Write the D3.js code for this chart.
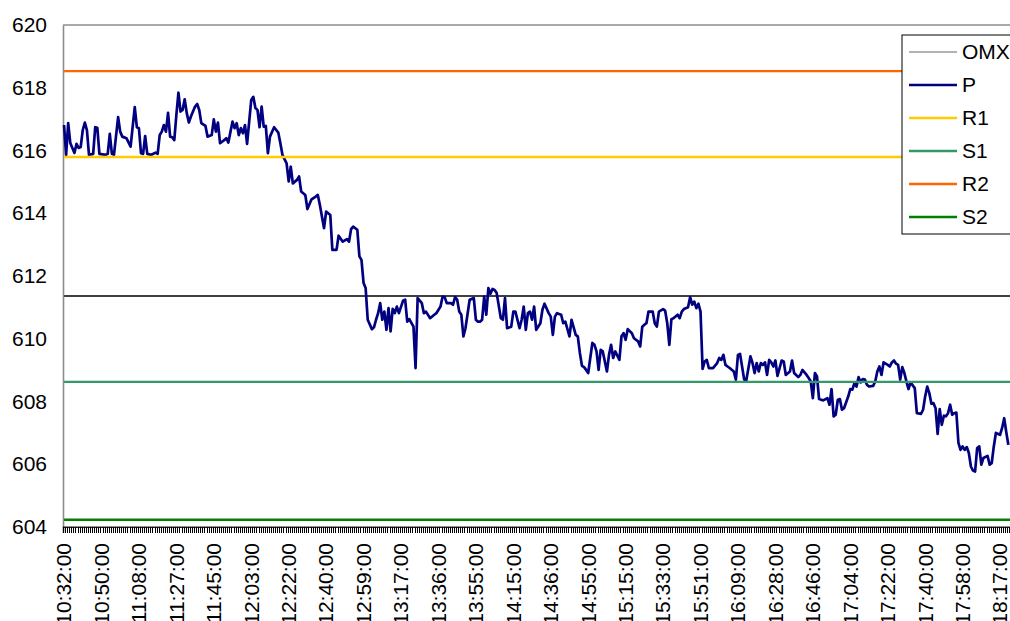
<!DOCTYPE html>
<html>
<head>
<meta charset="utf-8">
<script src="https://cdn.jsdelivr.net/npm/d3@7"></script>
<style>
body { margin: 0; background: #fff; }
text { font-family: "Liberation Sans", Arial, sans-serif; }
</style>
</head>
<body>
<svg id="chart"></svg>
<script>
// Width and height of svg
var width = 1010;
var height = 621;

// x axis: one category per quote, a label every 18th
var timeLabels = ["10:32:00", "10:50:00", "11:08:00", "11:27:00", "11:45:00", "12:03:00", "12:22:00",
  "12:40:00", "12:59:00", "13:17:00", "13:36:00", "13:55:00", "14:15:00", "14:36:00", "14:55:00",
  "15:15:00", "15:33:00", "15:51:00", "16:09:00", "16:28:00", "16:46:00", "17:04:00", "17:22:00",
  "17:40:00", "17:58:00", "18:17:00"];
var labelEvery = 18;
var categoryCount = 460;

var yTicks = [604, 606, 608, 610, 612, 614, 616, 618, 620];

// legend order and colours
var seriesNames = ["OMX", "P", "R1", "S1", "R2", "S2"];
var seriesColors = ["#404040", "#000080", "#ffcc00", "#339966", "#ff6600", "#008000"];

// pivot levels (flat series)
var levelNames = ["OMX", "R1", "S1", "R2", "S2"];
var levelValues = [611.36, 615.79, 608.62, 618.53, 604.22];

// price P: [category index, value]
var priceData = [
  [0,616.81],[1,615.86],[2,616.87],[3,616.24],[5,615.92],[6,616.21],[7,616.08],[8,616.11],[9,616.65],
  [10,616.89],[11,616.65],[12,615.86],[14,615.89],[15,616.74],[16,616.72],[17,615.89],[20,615.86],
  [21,615.89],[22,616.53],[23,615.89],[24,615.86],[26,617.06],[27,616.60],[28,616.44],[30,616.39],
  [32,616.12],[33,616.76],[34,617.38],[35,616.74],[36,616.71],[37,615.91],[38,615.89],[39,616.46],
  [40,615.89],[42,615.86],[44,615.93],[45,615.89],[46,616.49],[47,616.60],[48,616.81],[49,616.60],
  [50,617.20],[51,616.44],[52,616.42],[53,616.33],[54,617.13],[55,617.84],[56,617.24],[57,617.29],
  [58,617.63],[59,617.19],[60,616.89],[61,617.08],[63,617.40],[64,617.48],[65,617.29],[66,616.87],
  [68,616.78],[69,616.44],[71,616.49],[72,616.99],[73,616.60],[74,616.89],[75,616.23],[77,616.33],
  [78,616.39],[79,616.25],[81,616.92],[82,616.71],[83,616.87],[84,616.49],[85,616.71],[86,616.55],
  [87,616.81],[88,616.21],[90,617.61],[91,617.71],[92,617.35],[93,617.29],[94,616.74],[95,617.40],
  [96,616.76],[97,616.78],[98,615.91],[99,616.44],[101,616.74],[103,616.57],[104,616.23],[105,615.86],
  [107,615.59],[108,615.01],[109,615.48],[110,614.95],[112,615.06],[113,615.17],[114,614.69],[116,614.58],
  [117,614.13],[119,614.44],[121,614.53],[122,614.58],[123,614.26],[125,613.52],[126,614.05],[128,613.94],
  [129,612.83],[131,612.83],[132,613.28],[134,613.09],[136,613.17],[137,613.09],[138,613.49],[139,613.57],
  [141,613.47],[142,612.62],[143,612.51],[144,611.77],[145,611.61],[146,610.60],[148,610.30],[149,610.36],
  [150,610.60],[151,610.81],[152,611.13],[153,610.60],[154,610.86],[155,610.28],[156,610.97],[157,610.23],
  [158,610.95],[159,610.81],[160,611.02],[161,610.81],[163,611.21],[164,611.24],[165,610.54],[166,610.62],
  [168,610.38],[169,609.06],[170,611.29],[172,611.13],[173,610.81],[174,610.86],[176,610.65],[178,610.76],
  [179,610.81],[181,611.02],[182,611.34],[183,611.32],[184,611.13],[186,611.13],[187,611.08],[188,611.32],
  [189,611.24],[190,610.86],[191,610.76],[192,610.07],[193,610.33],[195,611.24],[197,611.29],[198,610.60],
  [199,610.54],[200,610.54],[201,610.60],[202,611.34],[203,610.76],[204,611.61],[205,611.43],[206,611.58],
  [207,611.55],[208,611.45],[210,610.65],[211,610.60],[212,611.29],[213,610.33],[215,610.38],[216,610.86],
  [217,610.86],[219,610.33],[220,610.60],[221,611.02],[222,610.28],[223,610.81],[224,610.86],[225,610.60],
  [226,611.02],[227,610.28],[229,610.49],[230,610.92],[231,611.11],[233,610.81],[234,610.70],[235,610.12],
  [236,610.70],[237,610.81],[239,610.76],[240,610.49],[241,610.54],[243,610.07],[244,610.60],[246,610.12],
  [247,610.07],[248,609.54],[249,609.13],[250,609.09],[251,609.00],[252,608.90],[254,609.86],[255,609.80],
  [256,609.59],[257,609.00],[258,609.64],[259,609.59],[261,608.95],[262,609.48],[263,609.80],[264,609.38],
  [265,609.59],[267,609.32],[268,610.07],[269,610.17],[270,609.96],[271,610.30],[273,610.17],[274,610.01],
  [276,609.91],[277,609.75],[278,610.38],[279,610.44],[280,610.49],[281,610.86],[282,610.86],[283,610.86],
  [284,610.49],[285,610.38],[286,610.86],[288,610.94],[289,610.89],[290,610.49],[291,609.80],[292,610.62],
  [293,610.65],[295,610.76],[296,610.65],[297,610.86],[298,610.94],[300,611.00],[301,611.32],[302,611.08],
  [303,611.18],[304,610.97],[305,611.11],[306,610.86],[307,609.03],[308,609.27],[309,609.32],[310,609.06],
  [312,609.06],[314,609.22],[315,609.38],[316,609.32],[317,609.48],[318,609.16],[319,609.11],[320,609.06],
  [322,608.95],[323,608.69],[324,609.48],[325,609.51],[327,608.69],[328,608.66],[330,609.43],[331,609.22],
  [332,608.90],[333,609.22],[334,608.95],[335,609.22],[336,609.16],[337,609.24],[338,608.84],[339,609.32],
  [340,609.24],[341,609.11],[342,609.30],[343,608.81],[345,609.30],[346,609.27],[347,608.84],[349,608.95],
  [350,609.30],[351,608.90],[353,608.77],[354,608.84],[355,609.00],[357,608.84],[358,608.74],[359,608.63],
  [360,608.10],[361,608.90],[362,608.79],[363,608.07],[364,608.05],[365,608.03],[367,608.10],[368,607.89],
  [369,608.39],[370,607.52],[371,607.57],[372,608.05],[373,608.07],[374,607.73],[375,607.78],[377,608.15],
  [378,608.39],[379,608.37],[380,608.58],[381,608.47],[382,608.77],[383,608.60],[384,608.71],[385,608.69],
  [386,608.53],[387,608.47],[389,608.49],[390,608.63],[391,608.95],[392,609.11],[393,608.84],[394,609.24],
  [396,609.16],[397,609.11],[398,609.24],[399,609.30],[400,609.20],[401,609.16],[402,608.69],[403,609.09],
  [404,608.90],[405,608.63],[406,608.39],[407,608.60],[409,608.42],[410,607.62],[412,607.60],[413,607.73],
  [414,608.15],[415,608.47],[416,608.26],[417,607.92],[418,607.94],[419,607.78],[420,606.96],[421,607.75],
  [422,607.25],[423,607.54],[424,607.52],[425,607.62],[426,607.89],[427,607.57],[428,607.62],[429,607.64],
  [430,606.67],[431,606.45],[432,606.56],[433,606.45],[434,606.54],[435,606.35],[436,605.92],[437,605.79],
  [438,605.76],[439,606.51],[440,606.56],[441,605.98],[442,606.19],[444,606.26],[445,605.98],[446,606.03],
  [447,606.56],[448,606.99],[450,606.93],[451,607.15],[452,607.46],[453,607.01],[454,606.61]
];

var plotLeft = 63, plotTop = 25, plotBottom = 526.7;
var step = 2.08;
var plotRight = plotLeft + categoryCount * step;

var svg = d3.select("#chart")
            .attr("width", width)
            .attr("height", height);

var x = d3.scaleLinear()
          .domain([0, categoryCount])
          .range([plotLeft, plotRight]);

var y = d3.scaleLinear()
          .domain([604, 620])
          .range([plotBottom, plotTop]);

function colorOf(name) {
  return seriesColors[seriesNames.indexOf(name)];
}

// plot frame: top border
svg.append("line")
  .attr("x1", plotLeft).attr("x2", plotRight)
  .attr("y1", plotTop).attr("y2", plotTop)
  .style("stroke", "#8c8c8c").style("stroke-width", 1.6);

// y axis
var yAxis = svg.append("g")
  .attr("transform", "translate(" + plotLeft + ",0)")
  .call(d3.axisLeft(y).tickValues(yTicks).tickSize(0).tickPadding(16));
yAxis.select(".domain").style("stroke", "#8c8c8c").style("stroke-width", 1.6);
yAxis.selectAll("text")
  .style("font-size", "21px").style("fill", "#000");

// x axis: a tick between every category
var xAxis = svg.append("g")
  .attr("transform", "translate(0," + plotBottom + ")")
  .call(d3.axisBottom(x).tickValues(d3.range(0, categoryCount + 1)).tickSize(6).tickFormat(""));
xAxis.select(".domain").style("stroke", "#222").style("stroke-width", 1.5);
xAxis.selectAll(".tick line")
  .style("stroke", "#000").style("stroke-width", 1)
  .style("shape-rendering", "crispEdges");

// time labels, rotated
svg.append("g").selectAll("text")
  .data(timeLabels)
  .enter()
  .append("text")
  .attr("transform", function(d, i) {
    return "translate(" + x(i * labelEvery + 0.5) + ",543)rotate(-90)";
  })
  .attr("dy", "0.35em")
  .attr("text-anchor", "end")
  .style("font-size", "21px")
  .text(function(d) { return d; });

var line = d3.line()
  .x(function(d) { return x(d[0] + 0.5); })
  .y(function(d) { return y(d[1]); });

function drawLevel(name) {
  var v = levelValues[levelNames.indexOf(name)];
  svg.append("path")
    .datum([[0, v], [categoryCount - 1, v]])
    .attr("d", line)
    .style("fill", "none")
    .style("stroke", colorOf(name))
    .style("stroke-width", name == "OMX" ? 2 : 2.4);
}

// series order as in the sheet
drawLevel("OMX");
svg.append("path")
  .datum(priceData)
  .attr("d", line)
  .style("fill", "none")
  .style("stroke", colorOf("P"))
  .style("stroke-width", 2.7)
  .style("stroke-linejoin", "round");
drawLevel("R1");
drawLevel("S1");
drawLevel("R2");
drawLevel("S2");

// legend
var legend = svg.append("g").attr("transform", "translate(902,35)");
legend.append("rect")
  .attr("x", 0).attr("y", 0)
  .attr("width", 140).attr("height", 199)
  .style("fill", "#fff").style("stroke", "#000").style("stroke-width", 1);

var items = legend.selectAll(".item")
  .data(seriesNames)
  .enter()
  .append("g")
  .attr("class", "item")
  .attr("transform", function(d, i) { return "translate(0," + (17 + i * 33) + ")"; });

items.append("line")
  .attr("x1", 7).attr("x2", 55)
  .style("stroke", function(d) { return d == "OMX" ? "#666" : colorOf(d); })
  .style("stroke-width", function(d) { return d == "OMX" ? 1 : 2.4; });

items.append("text")
  .attr("x", 60)
  .attr("dy", "0.35em")
  .style("font-size", "21px")
  .text(function(d) { return d; });
</script>
</body>
</html>
